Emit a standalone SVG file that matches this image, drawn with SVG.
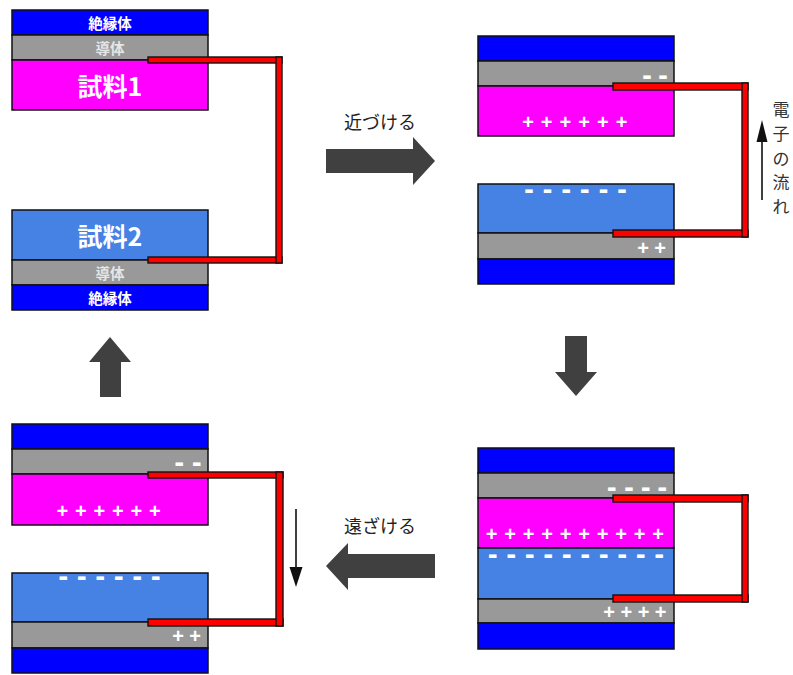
<svg xmlns="http://www.w3.org/2000/svg" width="793" height="675" viewBox="0 0 793 675">
  <style>
    .ins { fill: #0000ff; stroke: #111; stroke-width: 1.5; }
    .cond { fill: #999999; stroke: #111; stroke-width: 1.5; }
    .s1 { fill: #ff00ff; stroke: #111; stroke-width: 1.5; }
    .s2 { fill: #4682e4; stroke: #111; stroke-width: 1.5; }
    .wire { fill: #ff0000; stroke: #111; stroke-width: 1.4; }
    .lbl { font-family: "Noto Sans CJK JP", "Noto Sans", sans-serif; font-weight: bold; fill: #ffffff; text-anchor: middle; dominant-baseline: central; }
    .small { font-size: 14.5px; }
    .cond-lbl { fill: #e6e6e6; }
    .big { font-size: 25px; }
    .pos { font-family: "Liberation Sans", Arial, sans-serif; font-weight: bold; font-size: 20px; fill: #ffffff; text-anchor: middle; }
    .neg { font-family: "DejaVu Sans", sans-serif; font-weight: bold; font-size: 24px; fill: #ffffff; text-anchor: middle; }
    .cap { font-family: "Noto Sans CJK JP", "Noto Sans", sans-serif; font-size: 18px; fill: #222; text-anchor: middle; dominant-baseline: central; }
    .flow { font-family: "Noto Sans CJK JP", "Noto Sans", sans-serif; font-size: 17px; fill: #333; text-anchor: middle; dominant-baseline: central; }
    .step { fill: #404040; }
    .elec { stroke: #111; stroke-width: 1.6; fill: none; }
    .elec-head { fill: #111; }
  </style>

  <!-- Stage 1: two samples apart, labelled layers -->
  <g id="stage-separate">
    <rect class="ins" x="12" y="10" width="196" height="25"/>
    <rect class="cond" x="12" y="35" width="196" height="25"/>
    <rect class="s1" x="12" y="60" width="196" height="50"/>
    <text class="lbl small" x="110" y="22">絶縁体</text>
    <text class="lbl small cond-lbl" x="110" y="47.5">導体</text>
    <text class="lbl big" x="110" y="85">試料1</text>

    <rect class="s2" x="12" y="210" width="196" height="50"/>
    <rect class="cond" x="12" y="260" width="196" height="25"/>
    <rect class="ins" x="12" y="285" width="196" height="25"/>
    <text class="lbl big" x="110" y="235">試料2</text>
    <text class="lbl small cond-lbl" x="110" y="272.5">導体</text>
    <text class="lbl small" x="110" y="297.5">絶縁体</text>
  </g>

  <!-- Stage 2: samples brought closer -->
  <g id="stage-approach">
    <rect class="ins" x="478" y="36" width="196" height="25"/>
    <rect class="cond" x="478" y="61" width="196" height="25"/>
    <rect class="s1" x="478" y="86" width="196" height="50"/>
    <rect class="s2" x="478" y="184" width="196" height="49"/>
    <rect class="cond" x="478" y="233" width="196" height="26"/>
    <rect class="ins" x="478" y="259" width="196" height="25"/>
    <text class="neg" x="647 663" y="84">--</text>
    <text class="pos" x="528 546.7 565.4 584.1 602.8 621.5" y="128.5">++++++</text>
    <text class="neg" x="529 547.6 566.2 584.8 603.4 622" y="198">------</text>
    <text class="pos" x="643 660" y="254.5">++</text>
  </g>

  <!-- Stage 3: samples in contact -->
  <g id="stage-contact">
    <rect class="ins" x="478" y="448" width="196" height="25"/>
    <rect class="cond" x="478" y="473" width="196" height="25"/>
    <rect class="s1" x="478" y="498" width="196" height="50"/>
    <rect class="s2" x="478" y="548" width="196" height="51"/>
    <rect class="cond" x="478" y="599" width="196" height="24"/>
    <rect class="ins" x="478" y="623" width="196" height="26"/>
    <text class="neg" x="611.7 629 645.7 662.3" y="496">----</text>
    <text class="pos" x="491.7 510.2 528.7 547.2 565.7 584.2 602.7 621.2 639.7 658.2" y="540.5">++++++++++</text>
    <text class="neg" x="492.7 511.2 529.7 548.2 566.7 585.2 603.7 622.2 640.7 659.2" y="563">----------</text>
    <text class="pos" x="609 626.3 643.7 660.7" y="618.5">++++</text>
  </g>

  <!-- Stage 4: samples pulled apart again -->
  <g id="stage-withdraw">
    <rect class="ins" x="12" y="424" width="196" height="25"/>
    <rect class="cond" x="12" y="449" width="196" height="25"/>
    <rect class="s1" x="12" y="474" width="196" height="51"/>
    <rect class="s2" x="12" y="573" width="196" height="49"/>
    <rect class="cond" x="12" y="622" width="196" height="26"/>
    <rect class="ins" x="12" y="648" width="196" height="25"/>
    <text class="neg" x="179.3 196.7" y="471">--</text>
    <text class="pos" x="62.3 80.8 99.3 117.8 136.3 154.8" y="517.5">++++++</text>
    <text class="neg" x="63.3 81.8 100.3 118.8 137.3 155.8" y="585">------</text>
    <text class="pos" x="178 195" y="642.5">++</text>
  </g>

  <!-- Connectors: wires, step arrows, electron-flow arrows -->
  <g id="connectors">
    <!-- wires stage 1 -->
    <rect class="wire" x="148" y="57" width="134" height="6"/>
    <rect class="wire" x="148" y="257" width="134" height="6"/>
    <rect class="wire" x="276" y="57" width="6" height="206"/>
    <!-- wires stage 2 -->
    <rect class="wire" x="613" y="83" width="135" height="7"/>
    <rect class="wire" x="613" y="230" width="135" height="7"/>
    <rect class="wire" x="742" y="83" width="6" height="154"/>
    <!-- wires stage 3 -->
    <rect class="wire" x="613" y="495" width="135" height="7"/>
    <rect class="wire" x="613" y="595" width="135" height="7"/>
    <rect class="wire" x="742" y="495" width="6" height="107"/>
    <!-- wires stage 4 -->
    <rect class="wire" x="148" y="472" width="135" height="6"/>
    <rect class="wire" x="148" y="619" width="135" height="7"/>
    <rect class="wire" x="276" y="472" width="7" height="154"/>

    <!-- step arrows -->
    <polygon class="step" points="326,149 413,149 413,137 435,161 413,185 413,173 326,173"/>
    <polygon class="step" points="565,336 587,336 587,372 597,372 576,396 555,372 565,372"/>
    <polygon class="step" points="435,554 348,554 348,543 326,566 348,590 348,578 435,578"/>
    <polygon class="step" points="100,397 121,397 121,362 131,362 110,337 89,362 100,362"/>

    <!-- electron flow -->
    <line class="elec" x1="762" y1="200" x2="762" y2="138"/>
    <polygon class="elec-head" points="762,120 756.5,142 767.5,142"/>
    <line class="elec" x1="296" y1="509" x2="296" y2="570"/>
    <polygon class="elec-head" points="289.5,567 302.5,567 296,587"/>
  </g>

  <text class="cap" x="380" y="121">近づける</text>
  <text class="cap" x="380" y="525">遠ざける</text>
  <text class="flow" x="781 781 781 781 781" y="108 132 157 181 205">電子の流れ</text>
</svg>
